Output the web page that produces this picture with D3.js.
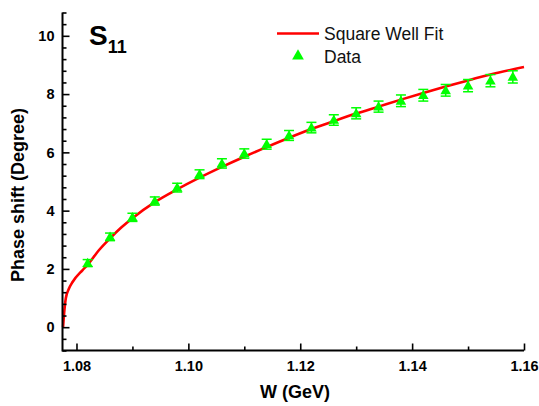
<!DOCTYPE html>
<html>
<head>
<meta charset="utf-8">
<script src="https://cdn.jsdelivr.net/npm/d3@7"></script>
<style>
  html, body { margin: 0; padding: 0; background: #fff; }
  svg { display: block; }
</style>
</head>
<body>
<svg id="chart" width="539" height="406"></svg>
<script>
// ---- data ----
const dataW = [1.082, 1.086, 1.090, 1.094, 1.098, 1.102, 1.106, 1.110, 1.114, 1.118,
               1.122, 1.126, 1.130, 1.134, 1.138, 1.142, 1.146, 1.150, 1.154, 1.158];
const dataPhase = [2.20, 3.10, 3.77, 4.33, 4.79, 5.25, 5.62, 5.96, 6.28, 6.58,
                   6.85, 7.11, 7.34, 7.57, 7.77, 7.96, 8.13, 8.29, 8.46, 8.59];
const dataErr = [0.12, 0.13, 0.14, 0.14, 0.15, 0.15, 0.16, 0.16, 0.17, 0.17,
                 0.18, 0.18, 0.19, 0.19, 0.20, 0.20, 0.20, 0.21, 0.21, 0.21];

const fitW = [1.0776, 1.0778, 1.0781, 1.0786, 1.0793, 1.0811, 1.082, 1.084, 1.086, 1.088,
              1.090, 1.094, 1.098, 1.102, 1.106, 1.110, 1.114, 1.118, 1.122, 1.126,
              1.130, 1.134, 1.138, 1.142, 1.146, 1.150, 1.154, 1.160];
const fitPhase = [0.0, 0.5, 1.0, 1.3, 1.55, 1.96, 2.14, 2.64, 3.05, 3.42,
                  3.74, 4.29, 4.73, 5.13, 5.50, 5.85, 6.18, 6.50, 6.80, 7.07,
                  7.33, 7.57, 7.81, 8.04, 8.26, 8.47, 8.67, 8.93];

const xMajorTicks = [1.08, 1.10, 1.12, 1.14, 1.16];
const xMinorTicks = [1.09, 1.11, 1.13, 1.15];
const yMajorTicks = [0, 2, 4, 6, 8, 10];
const yMinorTicks = [-0.8, -0.4, 0.4, 0.8, 1.2, 1.6, 2.4, 2.8, 3.2, 3.6, 4.4, 4.8, 5.2, 5.6,
                     6.4, 6.8, 7.2, 7.6, 8.4, 8.8, 9.2, 9.6, 10.4, 10.8];
const xTickLabels = ["1.08", "1.10", "1.12", "1.14", "1.16"];
const yTickLabels = ["0", "2", "4", "6", "8", "10"];

const seriesNames = ["Square Well Fit", "Data"];

// ---- drawing ----
const svg = d3.select("#chart");
const x = d3.scaleLinear().domain([1.0775, 1.16]).range([62.5, 524]);
const y = d3.scaleLinear().domain([-0.8, 10.8]).range([350.5, 12.5]);

const font = "'Liberation Sans', Arial, sans-serif";

// fit curve
const line = d3.line().curve(d3.curveMonotoneX)
  .x((d, i) => x(fitW[i])).y((d, i) => y(fitPhase[i]));
svg.append("path")
  .datum(fitPhase)
  .attr("d", line)
  .attr("fill", "none")
  .attr("stroke", "#ff0000")
  .attr("stroke-width", 2.6)
  .attr("stroke-linejoin", "round");

// error bars
const green = "#00ff00";
const eb = svg.append("g").attr("stroke", green).attr("stroke-width", 1.5);
dataW.forEach((w, i) => {
  const cx = x(w), yt = y(dataPhase[i] + dataErr[i]), yb = y(dataPhase[i] - dataErr[i]);
  eb.append("line").attr("x1", cx).attr("x2", cx).attr("y1", yt).attr("y2", yb);
  eb.append("line").attr("x1", cx - 5).attr("x2", cx + 5).attr("y1", yt).attr("y2", yt);
  eb.append("line").attr("x1", cx - 5).attr("x2", cx + 5).attr("y1", yb).attr("y2", yb);
});

// triangles
const tri = d3.symbol().type(d3.symbolTriangle).size(48);
svg.append("g").selectAll("path")
  .data(dataPhase)
  .join("path")
  .attr("d", tri)
  .attr("transform", (d, i) => `translate(${x(dataW[i])},${y(d) + 0.8})`)
  .attr("fill", green);

// axes
const axG = svg.append("g").attr("font-family", font);

const xAxis = d3.axisBottom(x).tickValues(xMajorTicks)
  .tickFormat((d, i) => xTickLabels[i]).tickSize(-7).tickPadding(10);
const xAxisMinor = d3.axisBottom(x).tickValues(xMinorTicks).tickFormat("").tickSize(-4);
const yAxis = d3.axisLeft(y).tickValues(yMajorTicks)
  .tickFormat((d, i) => yTickLabels[i]).tickSize(-7).tickPadding(8);
const yAxisMinor = d3.axisLeft(y).tickValues(yMinorTicks).tickFormat("").tickSize(-4);

function styleAxis(g) {
  g.select(".domain").remove();
  g.selectAll(".tick line").attr("stroke", "#000").attr("stroke-width", 1.6);
  g.selectAll(".tick text").attr("fill", "#000")
    .attr("font-size", 14.5).attr("font-weight", "bold").attr("font-family", font);
}

axG.append("g").attr("transform", "translate(0,350.5)").call(xAxis).call(styleAxis);
axG.append("g").attr("transform", "translate(0,350.5)").call(xAxisMinor).call(styleAxis);
axG.append("g").attr("transform", "translate(62.5,0)").call(yAxis).call(styleAxis);
axG.append("g").attr("transform", "translate(62.5,0)").call(yAxisMinor).call(styleAxis);

// axis lines
axG.append("line").attr("x1", x.range()[0]).attr("x2", x.range()[1])
  .attr("y1", 350.5).attr("y2", 350.5).attr("stroke", "#000").attr("stroke-width", 2);
axG.append("line").attr("x1", 62.5).attr("x2", 62.5)
  .attr("y1", y.range()[1]).attr("y2", y.range()[0] + 1).attr("stroke", "#000").attr("stroke-width", 2);

// axis titles
svg.append("text")
  .attr("x", 295).attr("y", 398)
  .attr("text-anchor", "middle")
  .attr("font-family", font).attr("font-weight", "bold").attr("font-size", 18)
  .text("W (GeV)");

svg.append("text")
  .attr("transform", "translate(24,195) rotate(-90)")
  .attr("text-anchor", "middle")
  .attr("font-family", font).attr("font-weight", "bold").attr("font-size", 18)
  .text("Phase shift (Degree)");

// panel label S11
const lab = svg.append("text")
  .attr("x", 89).attr("y", 45)
  .attr("font-family", font).attr("font-weight", "bold").attr("font-size", 28);
lab.append("tspan").text("S");
lab.append("tspan").attr("font-size", 18).attr("dy", 8).text("11");

// legend
const leg = svg.append("g").attr("font-family", font);
leg.append("line").attr("x1", 277).attr("x2", 319).attr("y1", 33.5).attr("y2", 33.5)
  .attr("stroke", "#ff0000").attr("stroke-width", 2.6);
leg.append("text").attr("x", 324).attr("y", 40).attr("font-size", 17.5)
  .attr("fill", "#111").text(seriesNames[0]);
leg.append("path").attr("d", d3.symbol().type(d3.symbolTriangle).size(60))
  .attr("transform", "translate(298,56)").attr("fill", green);
leg.append("text").attr("x", 324).attr("y", 63).attr("font-size", 17.5)
  .attr("fill", "#111").text(seriesNames[1]);
</script>
</body>
</html>
